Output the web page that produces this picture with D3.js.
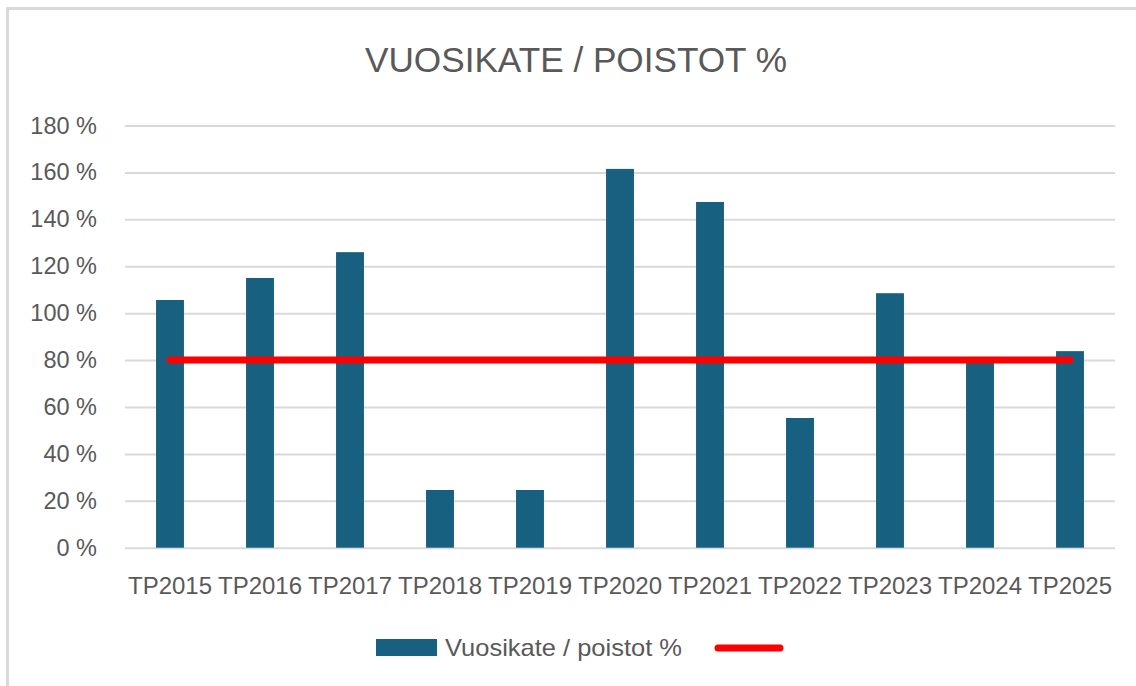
<!DOCTYPE html>
<html>
<head>
<meta charset="utf-8">
<script src="https://cdn.jsdelivr.net/npm/d3@7/dist/d3.min.js"></script>
<style>
  html, body { margin: 0; padding: 0; background: #fff; }
  svg { display: block; }
  text { font-family: "Liberation Sans", Arial, sans-serif; fill: #595959; }
</style>
</head>
<body>
<svg id="chart" width="1136" height="686"></svg>
<script>
const categories = ["TP2015","TP2016","TP2017","TP2018","TP2019","TP2020","TP2021","TP2022","TP2023","TP2024","TP2025"];
const barValues = [105.6, 115, 126, 24.6, 24.6, 161.5, 147.4, 55.3, 108.5, 79, 83.8];
const targetValues = [80, 80, 80, 80, 80, 80, 80, 80, 80, 80, 80];
const yTicks = [0, 20, 40, 60, 80, 100, 120, 140, 160, 180];
const title = "VUOSIKATE / POISTOT %";
const seriesName = "Vuosikate / poistot %";

const W = 1136, H = 686;
const svg = d3.select("#chart");

// chart border
svg.append("rect")
  .attr("x", 7.5).attr("y", 8.5)
  .attr("width", W + 20).attr("height", H + 20)
  .attr("fill", "#fff").attr("stroke", "#d9d9d9").attr("stroke-width", 3);

const plot = { left: 125, right: 1115, top: 125.5, bottom: 547.7 };

const x = d3.scaleBand().domain(categories).range([plot.left, plot.right]).paddingInner(0.69).paddingOuter(0.345);
const y = d3.scaleLinear().domain([0, 180]).range([plot.bottom, plot.top]);

// title
svg.append("text")
  .attr("x", 576).attr("y", 72)
  .attr("text-anchor", "middle")
  .attr("font-size", 35)
  .attr("textLength", 422).attr("lengthAdjust", "spacingAndGlyphs")
  .text(title);

// gridlines
const grid = svg.append("g")
  .call(d3.axisLeft(y).tickValues(yTicks).tickSize(-(plot.right - plot.left)).tickFormat(""))
  .attr("transform", `translate(${plot.left},0)`);
grid.select(".domain").remove();
grid.selectAll("line").attr("stroke", "#d9d9d9").attr("stroke-width", 2);

// y labels
const yAxis = svg.append("g")
  .attr("transform", `translate(97,0)`)
  .call(d3.axisLeft(y).tickValues(yTicks).tickSize(0).tickPadding(0).tickFormat(d => d + " %"));
yAxis.select(".domain").remove();
yAxis.selectAll("text").attr("font-size", 23.5).attr("fill", "#595959")
  .attr("font-family", '"Liberation Sans", Arial, sans-serif');

// bars
svg.append("g").selectAll("rect").data(barValues).join("rect")
  .attr("x", (d, i) => x(categories[i]))
  .attr("y", d => y(d))
  .attr("width", x.bandwidth())
  .attr("height", d => y(0) - y(d))
  .attr("fill", "#17607f");

// x labels
const xAxis = svg.append("g")
  .attr("transform", `translate(0,${plot.bottom})`)
  .call(d3.axisBottom(x).tickSize(0).tickPadding(29));
xAxis.select(".domain").remove();
xAxis.selectAll("text").attr("font-size", 24).attr("fill", "#595959")
  .attr("font-family", '"Liberation Sans", Arial, sans-serif');

// target line
const line = d3.line()
  .x((d, i) => x(categories[i]) + x.bandwidth() / 2)
  .y(d => y(d));
svg.append("path").datum(targetValues)
  .attr("d", line)
  .attr("fill", "none").attr("stroke", "#ff0000")
  .attr("stroke-width", 7).attr("stroke-linecap", "round");

// legend
const lg = svg.append("g");
lg.append("rect").attr("x", 376).attr("y", 639).attr("width", 61).attr("height", 17).attr("fill", "#17607f");
lg.append("text").attr("x", 445).attr("y", 656).attr("font-size", 24)
  .attr("textLength", 237).attr("lengthAdjust", "spacingAndGlyphs")
  .text(seriesName);
lg.append("line").attr("x1", 718).attr("x2", 780).attr("y1", 648).attr("y2", 648)
  .attr("stroke", "#ff0000").attr("stroke-width", 7).attr("stroke-linecap", "round");
</script>
</body>
</html>
